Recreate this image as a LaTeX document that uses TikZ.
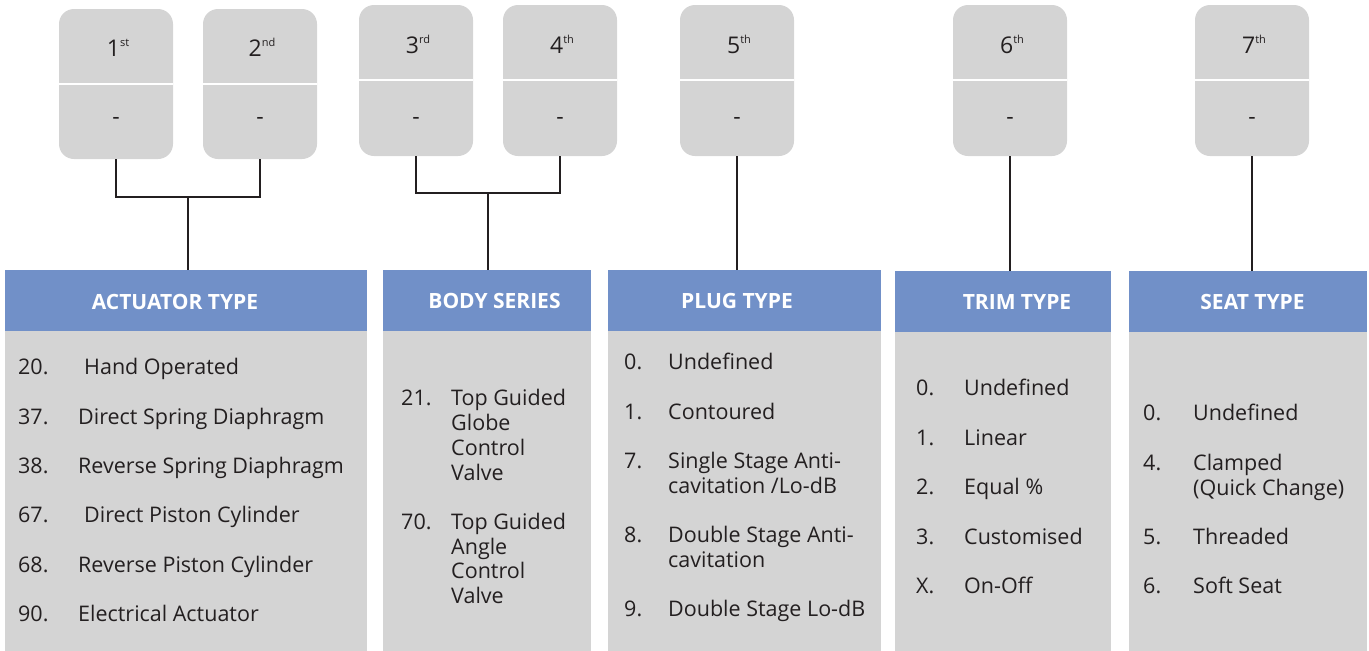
\documentclass[tikz,border=0pt]{standalone}
\usepackage{fontspec}
\setmainfont{Open Sans}
\definecolor{boxgray}{HTML}{D4D4D4}
\definecolor{hdrblue}{HTML}{7190C8}
\definecolor{ink}{HTML}{231F20}
\newcommand{\ordsup}[1]{\raisebox{10pt}{\fontsize{11}{12}\selectfont #1}}
\tikzset{
  topbox/.style={fill=boxgray, draw=none, rounded corners=15pt, minimum width=114pt, minimum height=151pt, inner sep=0pt},
  hdr/.style={fill=hdrblue, draw=none, minimum height=61pt, inner sep=0pt},
  panel/.style={fill=boxgray, draw=none, minimum height=320pt, inner sep=0pt},
  hdrtext/.style={text=white, font=\fontsize{21}{24}\selectfont\bfseries, inner sep=0pt},
  ordtxt/.style={text=ink, font=\fontsize{23}{26}\selectfont, inner sep=0pt, anchor=base},
  dashtxt/.style={text=ink, font=\fontsize{23}{26}\selectfont, inner sep=0pt},
  item/.style={text=ink, font=\fontsize{21.5}{24}\selectfont, inner sep=0pt, anchor=base west},
  conn/.style={draw=ink, line width=1.8pt},
  divider/.style={draw=white, line width=2pt}
}
\begin{document}
\begin{tikzpicture}[x=1pt,y=-1pt]
\useasboundingbox (0,0) rectangle (1369,651);
% top boxes
\node[topbox, minimum height=150pt] (b1) at (116,84) {};
\node[topbox, minimum height=150pt] (b2) at (260,84) {};
\node[topbox] (b3) at (416,80.5) {};
\node[topbox] (b4) at (560,80.5) {};
\node[topbox] (b5) at (737,80.5) {};
\node[topbox] (b6) at (1010,80.5) {};
\node[topbox] (b7) at (1252,80.5) {};
\draw[divider] (b1.west |- 0,84) -- (b1.east |- 0,84);
\draw[divider] (b2.west |- 0,84) -- (b2.east |- 0,84);
\draw[divider] (b3.west |- 0,80) -- (b3.east |- 0,80);
\draw[divider] (b4.west |- 0,80) -- (b4.east |- 0,80);
\draw[divider] (b5.west |- 0,80) -- (b5.east |- 0,80);
\draw[divider] (b6.west |- 0,80) -- (b6.east |- 0,80);
\draw[divider] (b7.west |- 0,80) -- (b7.east |- 0,80);
\node[ordtxt] (n1) at (118,56) {1\ordsup{st}};
\node[ordtxt] (n2) at (262,56) {2\ordsup{nd}};
\node[ordtxt] (n3) at (418,53) {3\ordsup{rd}};
\node[ordtxt] (n4) at (562,53) {4\ordsup{th}};
\node[ordtxt] (n5) at (739,53) {5\ordsup{th}};
\node[ordtxt] (n6) at (1012,53) {6\ordsup{th}};
\node[ordtxt] (n7) at (1254,53) {7\ordsup{th}};
\node[dashtxt] (d1) at (116,121) {-};
\node[dashtxt] (d2) at (260,121) {-};
\node[dashtxt] (d3) at (416,121) {-};
\node[dashtxt] (d4) at (560,121) {-};
\node[dashtxt] (d5) at (737,121) {-};
\node[dashtxt] (d6) at (1010,121) {-};
\node[dashtxt] (d7) at (1252,121) {-};
% headers
\node[hdr, minimum width=362pt] (h1) at (186,300.5) {};
\node[hdr, minimum width=208pt] (h2) at (487,300.5) {};
\node[hdr, minimum width=273pt] (h3) at (744.5,300.5) {};
\node[hdr, minimum width=216pt] (h4) at (1003,301.5) {};
\node[hdr, minimum width=238pt] (h5) at (1248,301.5) {};
\node[hdrtext] (t1) at (175,302) {ACTUATOR TYPE};
\node[hdrtext] (t2) at (494.5,301) {BODY SERIES};
\node[hdrtext] (t3) at (737,301) {PLUG TYPE};
\node[hdrtext] (t4) at (1017,302) {TRIM TYPE};
\node[hdrtext] (t5) at (1252.5,302) {SEAT TYPE};
% panels
\node[panel, minimum width=362pt, anchor=north] (p1) at (h1.south) {};
\node[panel, minimum width=208pt, anchor=north] (p2) at (h2.south) {};
\node[panel, minimum width=273pt, anchor=north] (p3) at (h3.south) {};
\node[panel, minimum width=216pt, anchor=north] (p4) at (h4.south) {};
\node[panel, minimum width=238pt, anchor=north] (p5) at (h5.south) {};
% connectors
\coordinate (j1) at (188,197);
\coordinate (j2) at (488,193);
\draw[conn] (b1.south) |- (j1) -| (b2.south);
\draw[conn] (j1) -- (j1 |- h1.north);
\draw[conn] (b3.south) |- (j2) -| (b4.south);
\draw[conn] (j2) -- (j2 |- h2.north);
\draw[conn] (b5.south) -- (b5.south |- h3.north);
\draw[conn] (b6.south) -- (b6.south |- h4.north);
\draw[conn] (b7.south) -- (b7.south |- h5.north);
% actuator list
\node[item] (a1n) at (18,374) {20.};  \node[item] (a1t) at (84,374) {Hand Operated};
\node[item] (a2n) at (18,424) {37.};  \node[item] (a2t) at (78,424) {Direct Spring Diaphragm};
\node[item] (a3n) at (18,473) {38.};  \node[item] (a3t) at (78,473) {Reverse Spring Diaphragm};
\node[item] (a4n) at (18,522) {67.};  \node[item] (a4t) at (84,522) {Direct Piston Cylinder};
\node[item] (a5n) at (18,572) {68.};  \node[item] (a5t) at (78,572) {Reverse Piston Cylinder};
\node[item] (a6n) at (18,621) {90.};  \node[item] (a6t) at (78,621) {Electrical Actuator};
% body series list
\node[item] (s1n) at (401,405) {21.}; \node[item] (s1a) at (451,405) {Top Guided};
\node[item] (s1b) at (451,430) {Globe};
\node[item] (s1c) at (451,455) {Control};
\node[item] (s1d) at (451,480) {Valve};
\node[item] (s2n) at (401,529) {70.}; \node[item] (s2a) at (451,529) {Top Guided};
\node[item] (s2b) at (451,554) {Angle};
\node[item] (s2c) at (451,578) {Control};
\node[item] (s2d) at (451,603) {Valve};
% plug list
\node[item] (g1n) at (624,369) {0.}; \node[item] (g1t) at (668,369) {Undefined};
\node[item] (g2n) at (624,419) {1.}; \node[item] (g2t) at (668,419) {Contoured};
\node[item] (g3n) at (624,468) {7.}; \node[item] (g3t) at (668,468) {Single Stage Anti-};
\node[item] (g3u) at (668,493) {cavitation /Lo-dB};
\node[item] (g4n) at (624,542) {8.}; \node[item] (g4t) at (668,542) {Double Stage Anti-};
\node[item] (g4u) at (668,567) {cavitation};
\node[item] (g5n) at (624,616) {9.}; \node[item] (g5t) at (668,616) {Double Stage Lo-dB};
% trim list
\node[item] (r1n) at (916,395) {0.}; \node[item] (r1t) at (964,395) {Undefined};
\node[item] (r2n) at (916,445) {1.}; \node[item] (r2t) at (964,445) {Linear};
\node[item] (r3n) at (916,494) {2.}; \node[item] (r3t) at (964,494) {Equal \%};
\node[item] (r4n) at (916,544) {3.}; \node[item] (r4t) at (964,544) {Customised};
\node[item] (r5n) at (916,593) {X.}; \node[item] (r5t) at (964,593) {On-Off};
% seat list
\node[item] (e1n) at (1143,420) {0.}; \node[item] (e1t) at (1193,420) {Undefined};
\node[item] (e2n) at (1143,470) {4.}; \node[item] (e2t) at (1193,470) {Clamped};
\node[item] (e2u) at (1193,495) {(Quick Change)};
\node[item] (e3n) at (1143,544) {5.}; \node[item] (e3t) at (1193,544) {Threaded};
\node[item] (e4n) at (1143,593) {6.}; \node[item] (e4t) at (1193,593) {Soft Seat};
\end{tikzpicture}
\end{document}
